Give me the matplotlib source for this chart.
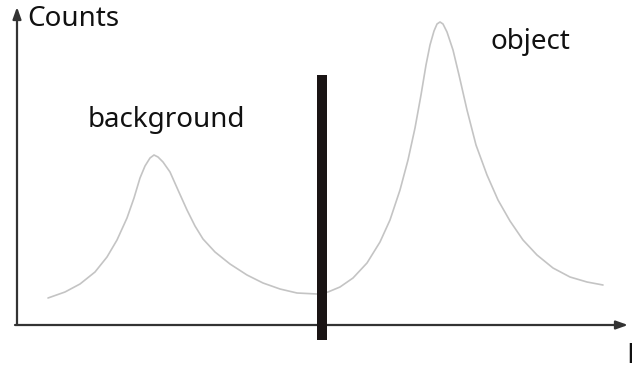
import matplotlib.pyplot as plt

# histogram outline: grey level L -> number of pixels (arbitrary units)
level = [31, 48, 63, 78, 90, 100, 110, 117, 123, 128, 133, 137, 141, 146, 153, 161, 170,
         178, 186, 198, 213, 230, 246, 263, 280, 300,
         311, 323, 336, 350, 363, 373, 383, 391, 398, 404, 409, 413, 417, 420, 423, 426,
         430, 436, 442, 450, 459, 470, 481, 493, 506, 520, 536, 553, 570, 586]
counts = [27, 33, 41, 53, 68, 85, 107, 127, 147, 159, 167, 170, 168, 163, 153, 135, 115,
          99, 86, 73, 61, 50, 42, 36, 32, 31,
          33, 38, 47, 62, 83, 105, 135, 165, 197, 230, 260, 280, 294, 301, 303, 301,
          293, 275, 250, 215, 180, 150, 125, 104, 85, 70, 57, 48, 43, 40]

threshold = 305
bar_top = 250
bar_bottom = -15

fig = plt.figure(figsize=(6.32, 3.69), dpi=100)
ax = fig.add_axes([0, 0, 1, 1])
ax.set_xlim(-17, 615)
ax.set_ylim(-44, 325)
ax.axis('off')

ax.plot(level, counts, color='#c4c4c4', lw=1.2, solid_capstyle='round',
        solid_joinstyle='round')

# threshold marker
ax.plot([threshold, threshold], [bar_bottom, bar_top], color='#1a1414', lw=7.2,
        solid_capstyle='butt', zorder=5)

# axes drawn as arrows
arrow = dict(arrowstyle='-|>,head_length=0.7,head_width=0.25', color='#333333', lw=1.6,
             shrinkA=0, shrinkB=0)
ax.annotate('', xy=(0, 318), xytext=(0, 0), arrowprops=arrow)
ax.annotate('', xy=(611, 0), xytext=(-2, 0), arrowprops=arrow)

font = dict(family='Noto Sans', fontsize=20, color='#111111')
ax.text(10, 306, 'Counts', ha='left', va='center', **font)
ax.text(149, 205, 'background', ha='center', va='center', **font)
ax.text(513, 283, 'object', ha='center', va='center', **font)
ax.text(609, -31, 'L', ha='left', va='center', **font)

fig.savefig('out.png', dpi=100)
